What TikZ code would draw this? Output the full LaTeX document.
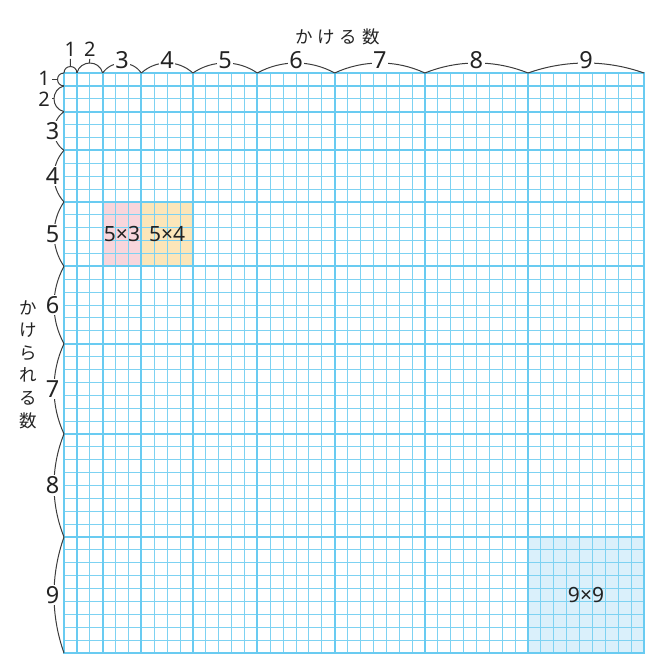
\documentclass[tikz,border=0pt]{standalone}
\usepackage{fontspec}
\newfontfamily\numfont{Noto Sans}
\newfontfamily\jpfont{Noto Sans CJK JP}
\definecolor{gridthin}{RGB}{125,210,242}
\definecolor{gridthick}{RGB}{105,203,241}
\definecolor{pinkc}{RGB}{248,214,220}
\definecolor{yellowc}{RGB}{252,230,185}
\definecolor{bluec}{RGB}{218,240,251}
\definecolor{txt}{RGB}{35,35,35}
\definecolor{bracecol}{RGB}{60,60,60}
\begin{document}
\begin{tikzpicture}[x=1pt,y=-1pt,
  thinl/.style={draw=gridthin, line width=1pt},
  thickl/.style={draw=gridthick, line width=1.7pt, line cap=rect},
  bracel/.style={draw=bracecol, line width=1pt},
  numlab/.style={text=txt, font=\numfont\fontsize{23.5}{24}\selectfont, inner sep=1.5pt, fill=white},
  smalllab/.style={text=txt, font=\numfont\fontsize{20}{20}\selectfont, inner sep=2pt},
  celllab/.style={text=txt, font=\numfont\fontsize{21}{21}\selectfont, inner sep=0pt},
  jplab/.style={text=txt, font=\jpfont\fontsize{17.5}{22.6}\selectfont, inner sep=0pt}
]
\useasboundingbox (0,0) rectangle (669,665);
\def\gx{64}
\def\gy{73}
\def\gu{12.8889}
% coloured cells
\fill[pinkc] (\gx+3*\gu, \gy+10*\gu) rectangle (\gx+6*\gu, \gy+15*\gu);
\fill[yellowc] (\gx+6*\gu, \gy+10*\gu) rectangle (\gx+10*\gu, \gy+15*\gu);
\fill[bluec] (\gx+36*\gu, \gy+36*\gu) rectangle (\gx+45*\gu, \gy+45*\gu);
% thin grid
\foreach \i in {0,...,45} {
  \draw[thinl] (\gx+\i*\gu, \gy) -- (\gx+\i*\gu, \gy+45*\gu);
  \draw[thinl] (\gx, \gy+\i*\gu) -- (\gx+45*\gu, \gy+\i*\gu);
}
% group boundaries
\foreach \i in {0,1,3,6,10,15,21,28,36,45} {
  \draw[thickl] (\gx+\i*\gu, \gy) -- (\gx+\i*\gu, \gy+45*\gu);
  \draw[thickl] (\gx, \gy+\i*\gu) -- (\gx+45*\gu, \gy+\i*\gu);
}
% scallop braces
\foreach \a/\b in {0/1, 1/3, 3/6, 6/10, 10/15, 15/21, 21/28, 28/36, 36/45} {
  \pgfmathsetmacro\bc{(\b-\a)*\gu}
  \pgfmathsetmacro\bh{min(10,\bc/2)}
  \pgfmathsetmacro\bt{2*\bh/\bc}
  \pgfmathsetmacro\bR{(\bc*\bc/4+\bh*\bh)/(2*\bh)}
  \pgfmathsetmacro\bth{2*atan(\bt)}
  \pgfmathsetmacro\bd{4/3*\bt*\bR}
  \pgfmathsetmacro\dc{\bd*cos(\bth)}
  \pgfmathsetmacro\ds{\bd*sin(\bth)}
  \pgfmathsetmacro\xa{\gx+\a*\gu}
  \pgfmathsetmacro\xb{\gx+\b*\gu}
  \pgfmathsetmacro\ya{\gy+\a*\gu}
  \pgfmathsetmacro\yb{\gy+\b*\gu}
  \draw[bracel] (\xa,\gy) .. controls (\xa+\dc,\gy-\ds) and (\xb-\dc,\gy-\ds) .. (\xb,\gy);
  \draw[bracel] (\gx,\ya) .. controls (\gx-\ds,\ya+\dc) and (\gx-\ds,\yb-\dc) .. (\gx,\yb);
}
% labels of the larger groups
\foreach \a/\b/\n in {3/6/3, 6/10/4, 10/15/5, 15/21/6, 21/28/7, 28/36/8, 36/45/9} {
  \node[numlab] (top\n) at ({\gx+(\a+\b)/2*\gu}, 60) {\n};
  \node[numlab] (left\n) at (52.5, {\gy+(\a+\b)/2*\gu}) {\n};
}
% small groups with ticks
\node[smalllab] (top1) at (70.4, 49.5) {1};
\node[smalllab] (top2) at (89.8, 49.5) {2};
\node[smalllab] (left1) at (44, 78.5) {1};
\node[smalllab] (left2) at (44, 99) {2};
\coordinate (pt1) at (70.44, 66.56);
\coordinate (pt2) at (89.33, 63);
\coordinate (pl1) at (57.56, 79.44);
\coordinate (pl2) at (54, 98.78);
\draw[bracel] (pt1) -- (top1.south);
\draw[bracel] (pt2) -- (top2.south);
\draw[bracel] (pl1) -- (left1.east |- pl1);
\draw[bracel] (pl2) -- (left2.east |- pl2);
% cell labels
\node[celllab] (c53) at ({\gx+4.5*\gu}, {\gy+12.5*\gu}) {5×3};
\node[celllab] (c54) at ({\gx+8*\gu}, {\gy+12.5*\gu}) {5×4};
\node[celllab] (c99) at ({\gx+40.5*\gu}, {\gy+40.5*\gu}) {9×9};
% axis titles
\node[jplab] (kakeru) at (337.5, 37) {か\kern5ptけ\kern5ptる\kern5pt数};
\node[jplab, align=center] (kakerareru) at (28.5, 364.5) {か\\け\\ら\\れ\\る\\数};
\end{tikzpicture}
\end{document}
